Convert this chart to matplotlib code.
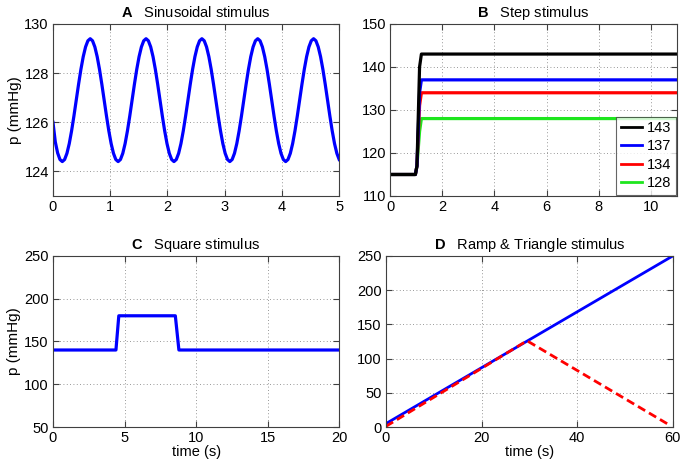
import numpy as np
import matplotlib
matplotlib.use("Agg")
import matplotlib.pyplot as plt

plt.rcParams["font.family"] = ["Liberation Sans", "DejaVu Sans"]
plt.rcParams["mathtext.fontset"] = "custom"
plt.rcParams["mathtext.bf"] = "Liberation Sans:bold"

t_sin = np.arange(124) * 0.04065
ciclo = [124.4, 124.485, 124.735, 125.132, 125.65, 126.253, 126.9, 127.547,
         128.15, 128.668, 129.065, 129.315, 129.4, 129.315, 129.065, 128.668,
         128.15, 127.547, 126.9, 126.253, 125.65, 125.132, 124.735, 124.485]
p_sin = [126.0, 125.2, 124.75, 124.485] + ciclo * 5

# B - step stimulus
t_step = [0, 0.97, 1.03, 1.13, 1.2, 11]
niveles = [143, 137, 134, 128]
colores_step = ["black", "#0000ff", "#ff0000", "#1ee61e"]
base_step = 115

# C - square stimulus
t_sq = [0, 4.4, 4.6, 8.55, 8.8, 20]
p_sq = [140, 140, 180, 180, 140, 140]

# D - ramp & triangle
t_ramp = [0, 60]
p_ramp = [5, 250]
t_tri = [0, 29.5, 59.5]
p_tri = [1, 126, 2]

FS = 10.5


def estilo(ax):
    ax.grid(True, linestyle=(0, (1, 3)), color="#777777", linewidth=0.6)
    ax.tick_params(direction="in", length=4, top=True, right=True, labelsize=FS,
                   color="#404040", pad=3)
    for s in ax.spines.values():
        s.set_color("#404040")
        s.set_linewidth(0.8)


fig = plt.figure(figsize=(6.88, 4.65), dpi=100)
axA = fig.add_axes([0.077, 0.5785, 0.416, 0.370])
axB = fig.add_axes([0.567, 0.5785, 0.417, 0.370])
axC = fig.add_axes([0.077, 0.0817, 0.416, 0.368])
axD = fig.add_axes([0.561, 0.0817, 0.417, 0.368])

# A
axA.plot(t_sin, p_sin, color="#0000ff", linewidth=2.3)
axA.set_xlim(0, 5)
axA.set_ylim(123, 130)
axA.set_yticks([124, 126, 128, 130])
axA.set_xticks([0, 1, 2, 3, 4, 5])
axA.set_ylabel("p (mmHg)", fontsize=11, labelpad=2)
axA.set_title(r"$\bf{A}$   Sinusoidal stimulus", fontsize=FS, pad=5)
estilo(axA)

# B
lineas = []
for nivel, col in zip(niveles[::-1], colores_step[::-1]):
    ln, = axB.plot(t_step, [base_step, base_step, base_step + 2, nivel - 3, nivel, nivel],
                   color=col, linewidth=2.3, label=str(nivel))
    lineas.append(ln)
axB.set_xlim(0, 11)
axB.set_ylim(110, 150)
axB.set_xticks([0, 2, 4, 6, 8, 10])
axB.set_yticks([110, 120, 130, 140, 150])
axB.set_title(r"$\bf{B}$   Step stimulus", fontsize=FS, pad=5)
leg = axB.legend(handles=lineas[::-1], loc="lower right", fontsize=FS, frameon=True,
                 fancybox=False, edgecolor="#404040", handlelength=1.5, handletextpad=0.3,
                 borderpad=0.3, labelspacing=0.3, borderaxespad=0.1)
leg.get_frame().set_linewidth(0.8)
for h in leg.get_lines():
    h.set_linewidth(2.0)
estilo(axB)

# C
axC.plot(t_sq, p_sq, color="#0000ff", linewidth=2.3)
axC.set_xlim(0, 20)
axC.set_ylim(50, 250)
axC.set_xticks([0, 5, 10, 15, 20])
axC.set_yticks([50, 100, 150, 200, 250])
axC.set_ylabel("p (mmHg)", fontsize=11, labelpad=2)
axC.set_xlabel("time (s)", fontsize=FS, labelpad=0)
axC.set_title(r"$\bf{C}$   Square stimulus", fontsize=FS, pad=5)
estilo(axC)

# D
axD.plot(t_ramp, p_ramp, color="#0000ff", linewidth=2.0)
axD.plot(t_tri, p_tri, color="#ff0000", linewidth=2.0, linestyle=(0, (3, 1.6)))
axD.set_xlim(0, 60)
axD.set_ylim(0, 250)
axD.set_xticks([0, 20, 40, 60])
axD.set_yticks([0, 50, 100, 150, 200, 250])
axD.set_xlabel("time (s)", fontsize=FS, labelpad=0)
axD.set_title(r"$\bf{D}$   Ramp & Triangle stimulus", fontsize=FS, pad=5)
estilo(axD)

fig.savefig("out.png", dpi=100)
